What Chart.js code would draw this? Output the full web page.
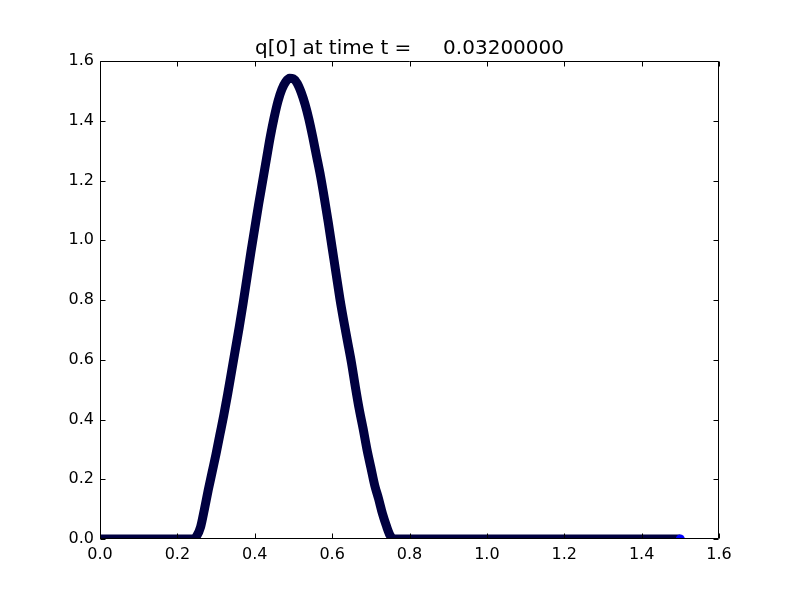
<!DOCTYPE html>
<html><head><meta charset="utf-8">
<script src="https://cdn.jsdelivr.net/npm/chart.js@4.4.0/dist/chart.umd.min.js"></script>
<style>html,body{margin:0;padding:0;background:#fff}#wrap{width:800px;height:600px}</style>
</head><body><div id="wrap"><canvas id="c" width="800" height="600"></canvas></div>
<script>
const titleText = 'q[0] at time t =     0.03200000';
const xValues = [0, 0.1, 0.2, 0.24, 0.25, 0.26, 0.27, 0.28, 0.29, 0.30, 0.31, 0.32, 0.33, 0.34, 0.35, 0.36, 0.37, 0.38, 0.39,
  0.40, 0.41, 0.42, 0.43, 0.44, 0.45, 0.46, 0.47, 0.48, 0.49, 0.50, 0.51, 0.52, 0.53, 0.54, 0.55, 0.56, 0.57, 0.58, 0.59,
  0.60, 0.61, 0.62, 0.63, 0.64, 0.65, 0.66, 0.67, 0.68, 0.69, 0.70, 0.71, 0.72, 0.73, 0.74, 0.75, 0.76, 0.8, 0.9, 1.0,
  1.1, 1.2, 1.3, 1.4, 1.5];
const qValues = [0, 0, 0, 0, 0.01, 0.04, 0.10, 0.165, 0.225, 0.285, 0.35, 0.415, 0.485, 0.56, 0.635, 0.71, 0.79, 0.875, 0.96,
  1.04, 1.12, 1.195, 1.27, 1.345, 1.41, 1.465, 1.505, 1.53, 1.542, 1.54, 1.525, 1.495, 1.455, 1.405, 1.345, 1.28, 1.215, 1.14, 1.06,
  0.975, 0.89, 0.805, 0.73, 0.66, 0.59, 0.51, 0.435, 0.37, 0.30, 0.24, 0.18, 0.135, 0.085, 0.045, 0.012, 0, 0, 0, 0,
  0, 0, 0, 0, 0];
const xTicks = [0, 0.2, 0.4, 0.6, 0.8, 1.0, 1.2, 1.4, 1.6];
const yTicks = [0, 0.2, 0.4, 0.6, 0.8, 1.0, 1.2, 1.4, 1.6];

const points = xValues.map((x, i) => ({x: x, y: qValues[i]}));
const lastIdx = points.length - 1;

const frameTicks = {
  id: 'frameTicks',
  afterDraw(chart) {
    const {ctx, chartArea: a, scales} = chart;
    const L = Math.round(a.left) + 0.5, R = Math.round(a.right) - 0.5;
    const T = Math.round(a.top) + 0.5, B = Math.round(a.bottom) - 0.5;
    ctx.save();
    ctx.strokeStyle = '#000';
    ctx.lineWidth = 1;
    ctx.beginPath();
    ctx.rect(L, T, R - L, B - T);
    const tl = 5;
    xTicks.forEach(v => {
      const p = Math.round(scales.x.getPixelForValue(v)) + 0.5;
      ctx.moveTo(p, B); ctx.lineTo(p, B - tl);
      ctx.moveTo(p, T); ctx.lineTo(p, T + tl);
    });
    yTicks.forEach(v => {
      const p = Math.round(scales.y.getPixelForValue(v)) + 0.5;
      ctx.moveTo(L, p); ctx.lineTo(L + tl, p);
      ctx.moveTo(R, p); ctx.lineTo(R - tl, p);
    });
    ctx.stroke();
    ctx.restore();
  }
};

const tickFont = {family: 'DejaVu Sans', size: 16};

new Chart(document.getElementById('c'), {
  type: 'scatter',
  data: {
    datasets: [{
      data: points,
      showLine: true,
      borderColor: '#000040',
      borderWidth: 9,
      cubicInterpolationMode: 'monotone',
      pointRadius: ctx => ctx.dataIndex === lastIdx ? 4.5 : 0,
      pointBackgroundColor: '#0000ff',
      pointBorderColor: '#0000ff',
      pointBorderWidth: 0,
      clip: 0
    }]
  },
  options: {
    responsive: false,
    animation: false,
    devicePixelRatio: 1,
    layout: {padding: {left: 0, right: 81, top: 0, bottom: 0}},
    plugins: {
      legend: {display: false},
      tooltip: {enabled: false},
      title: {
        display: true,
        fullSize: false,
        text: titleText,
        color: '#000',
        font: {family: 'DejaVu Sans', size: 20, weight: 'normal', lineHeight: 1.2},
        padding: {top: 37, bottom: 0}
      }
    },
    scales: {
      x: {
        type: 'linear',
        min: 0, max: 1.6,
        grid: {display: false, drawTicks: false},
        border: {display: false},
        afterBuildTicks: s => { s.ticks = xTicks.map(v => ({value: v})); },
        afterFit: s => { s.height = 61; },
        ticks: {
          color: '#000', font: tickFont, padding: 6, maxRotation: 0, autoSkip: false,
          callback: v => Number(v).toFixed(1)
        }
      },
      y: {
        type: 'linear',
        min: 0, max: 1.6,
        grid: {display: false, drawTicks: false},
        border: {display: false},
        afterBuildTicks: s => { s.ticks = yTicks.map(v => ({value: v})); },
        afterFit: s => { s.width = 100; },
        ticks: {
          color: '#000', font: tickFont, padding: 6, autoSkip: false,
          callback: v => Number(v).toFixed(1)
        }
      }
    }
  },
  plugins: [frameTicks]
});
</script>
</body></html>
